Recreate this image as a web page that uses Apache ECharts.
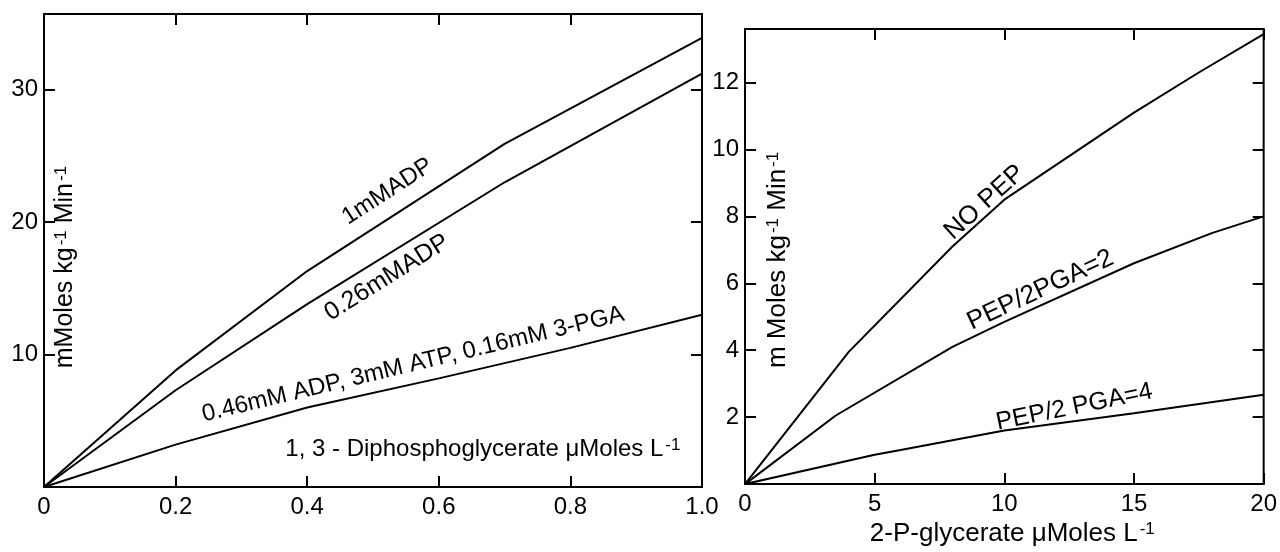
<!DOCTYPE html>
<html>
<head>
<meta charset="utf-8">
<script src="https://cdn.jsdelivr.net/npm/echarts@6/dist/echarts.min.js"></script>
<style>
  html, body { margin: 0; padding: 0; background: #fff; }
  #chart { width: 1280px; height: 552px; }
</style>
</head>
<body>
<div id="chart"></div>
<script>
// ---- Left panel: rate vs 1,3-diphosphoglycerate (µMoles/L) ----
const dpgX      = [0, 0.2, 0.4, 0.7, 1.0];
const adp1mM    = [0, 8.8, 16.3, 25.9, 33.9];
const adp026X   = [0, 0.2, 0.4, 0.7, 1.0];
const adp026mM  = [0, 7.3, 13.8, 23.0, 31.2];
const pgaX      = [0, 0.2, 0.4, 0.6, 0.8, 1.0];
const pgaMix    = [0, 3.2, 6.0, 8.2, 10.5, 13.0];

// ---- Right panel: rate vs 2-P-glycerate (µMoles/L) ----
const noPepX    = [0, 4, 8, 10, 15, 17.5, 20];
const noPep     = [0, 3.95, 7.1, 8.5, 11.1, 12.3, 13.45];
const pep2X     = [0, 3.5, 8, 10, 15, 18, 20];
const pep2      = [0, 2.05, 4.1, 4.85, 6.6, 7.5, 8.0];
const pep4X     = [0, 5, 6, 10, 15, 20];
const pep4      = [0, 0.88, 1.02, 1.6, 2.12, 2.67];

// Labelled tick values
const leftXTicks  = [0, 0.2, 0.4, 0.6, 0.8, 1.0];
const leftYTicks  = [10, 20, 30];
const rightXTicks = [0, 5, 10, 15, 20];
const rightYTicks = [2, 4, 6, 8, 10, 12];

// Curve captions and axis titles ({s|..} marks a superscript)
const captions = {
  adp1:  '1mMADP',
  adp026: '0.26mMADP',
  mix:   '0.46mM ADP, 3mM ATP, 0.16mM 3-PGA',
  noPep: 'NO PEP',
  pep2:  'PEP/2PGA=2',
  pep4:  'PEP/2 PGA=4'
};
const leftXTitle  = '1, 3 - Diphosphoglycerate \u03bcMoles L{s|-1}';
const leftYTitle  = 'mMoles kg{s|-1} Min{s|-1}';
const rightXTitle = '2-P-glycerate \u03bcMoles L{s|-1}';
const rightYTitle = 'm Moles kg{s|-1} Min{s|-1}';

const FONT = "'Liberation Sans', Arial, sans-serif";
const pair = (xs, ys) => xs.map((x, i) => [x, ys[i]]);
const supRich = { s: { fontSize: 17, fontFamily: FONT, color: '#000', verticalAlign: 'top', padding: [0, 0, 0, 2] } };

const grids = [
  { left: 44, right: 578, top: 14, bottom: 65 },
  { left: 745, right: 12, top: 29, bottom: 65 }
].map(g => Object.assign({ show: true, borderColor: '#000', borderWidth: 2, backgroundColor: 'transparent' }, g));

const tickStyle = { show: true, inside: true, length: 11, lineStyle: { color: '#000', width: 2 } };

function axisDef(grid, min, max, interval, pos, fmt) {
  return {
    type: 'value', gridIndex: grid, position: pos, min, max, interval,
    axisLine: { show: false, onZero: false },
    splitLine: { show: false },
    axisTick: tickStyle,
    axisLabel: fmt
      ? { show: true, color: '#000', fontSize: 24, fontFamily: FONT, margin: pos === 'bottom' ? 8 : 6, formatter: fmt, showMaxLabel: pos === 'bottom' }
      : { show: false }
  };
}

const leftXFmt  = v => leftXTicks.some(t => Math.abs(t - v) < 1e-9) ? (v === 0 ? '0' : v.toFixed(1)) : '';
const leftYFmt  = v => leftYTicks.includes(v) ? String(v) : '';
const rightXFmt = v => rightXTicks.includes(v) ? String(v) : '';
const rightYFmt = v => rightYTicks.includes(v) ? String(v) : '';

const xAxes = [
  axisDef(0, 0, 1.0, 0.2, 'bottom', leftXFmt),
  axisDef(0, 0, 1.0, 0.2, 'top', null),
  Object.assign(axisDef(1, 0, 20, 5, 'bottom', rightXFmt), {
    name: rightXTitle, nameLocation: 'middle', nameGap: 29,
    nameTextStyle: { color: '#000', fontSize: 26, fontFamily: FONT, rich: supRich, padding: [0, 0, 0, 16] }
  }),
  axisDef(1, 0, 20, 5, 'top', null)
];
const yAxes = [
  axisDef(0, 0, 35.7, 10, 'left', leftYFmt),
  axisDef(0, 0, 35.7, 10, 'right', null),
  axisDef(1, 0, 13.6, 2, 'left', rightYFmt),
  axisDef(1, 0, 13.6, 2, 'right', null)
];

function curve(data, xi, yi) {
  return {
    type: 'line', data, xAxisIndex: xi, yAxisIndex: yi,
    symbol: 'none', smooth: false, silent: true,
    lineStyle: { color: '#000', width: 2 }
  };
}

// Text placed in the data space of a panel
function textItem(x, y, text, rotate, size) {
  return {
    value: [x, y],
    label: {
      show: true, position: 'inside', formatter: text, rotate, fontSize: size,
      color: '#000', opacity: 1, textBorderWidth: 0, fontFamily: FONT, rich: supRich
    }
  };
}
function textLayer(items, xi, yi) {
  return {
    type: 'scatter', xAxisIndex: xi, yAxisIndex: yi, silent: true,
    symbolSize: 1, itemStyle: { color: 'rgba(255,255,255,0)', opacity: 1 },
    data: items, z: 5
  };
}

const option = {
  animation: false,
  backgroundColor: '#fff',
  grid: grids,
  xAxis: xAxes,
  yAxis: yAxes,
  series: [
    curve(pair(dpgX, adp1mM), 0, 0),
    curve(pair(adp026X, adp026mM), 0, 0),
    curve(pair(pgaX, pgaMix), 0, 0),
    curve(pair(noPepX, noPep), 2, 2),
    curve(pair(pep2X, pep2), 2, 2),
    curve(pair(pep4X, pep4), 2, 2),
    textLayer([
      textItem(0.522, 22.3, captions.adp1, 33, 24),
      textItem(0.521, 15.8, captions.adp026, 32, 25),
      textItem(0.561, 9.25, captions.mix, 13.5, 24),
      textItem(0.667, 2.87, leftXTitle, 0, 24),
      textItem(0.032, 16.6, leftYTitle, 90, 25)
    ], 0, 0),
    textLayer([
      textItem(9.24, 8.42, captions.noPep, 42, 26),
      textItem(11.39, 5.8, captions.pep2, 25, 26),
      textItem(12.7, 2.3, captions.pep4, 11.5, 25),
      textItem(1.26, 6.7, rightYTitle, 90, 26)
    ], 2, 2)
  ]
};

const chart = echarts.init(document.getElementById('chart'), null, { renderer: 'canvas' });
chart.setOption(option);
</script>
</body>
</html>
